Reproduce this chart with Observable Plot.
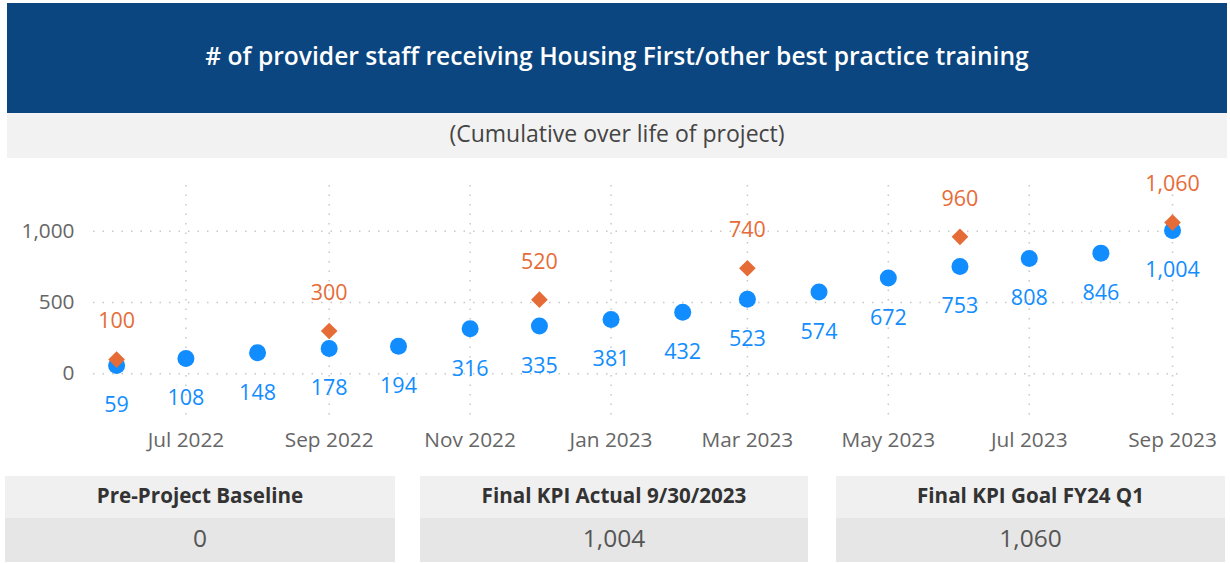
<!DOCTYPE html>
<html>
<head>
<meta charset="utf-8">
<script src="https://cdn.jsdelivr.net/npm/d3@7"></script>
<script src="https://cdn.jsdelivr.net/npm/@observablehq/plot@0.6"></script>
<style>
  html, body { margin: 0; padding: 0; background: #fff; }
  body { width: 1230px; height: 563px; position: relative; overflow: hidden;
         font-family: "Segoe UI", "Open Sans", sans-serif; }
  #banner { position: absolute; left: 7px; top: 3px; width: 1220px; height: 110px; box-sizing: border-box;
            padding-bottom: 6px;
            background: #0b4680; color: #fff; display: flex; align-items: center; justify-content: center;
            font-size: 24.6px; font-weight: 600; }
  #sub { position: absolute; left: 7px; top: 113px; width: 1220px; height: 45px; box-sizing: border-box;
         padding-bottom: 5px;
         background: #f2f2f2; color: #444; display: flex; align-items: center; justify-content: center;
         font-size: 23px; }
  #chart { position: absolute; left: 0; top: 160px; }
  .card { position: absolute; top: 476px; }
  .card .h { height: 42px; box-sizing: border-box; padding-bottom: 5px; background: #f0f0f0; color: #333; font-weight: 700; font-size: 20.6px;
             display: flex; align-items: center; justify-content: center; }
  .card .v { height: 44px; box-sizing: border-box; padding-bottom: 5px; background: #e6e6e6; color: #555; font-size: 24.5px;
             display: flex; align-items: center; justify-content: center; }
</style>
</head>
<body>
<div id="banner"></div>
<div id="sub"></div>
<div id="chart"></div>
<div id="cards"></div>
<script>
const titleText = "# of provider staff receiving Housing First/other best practice training";
const subtitleText = "(Cumulative over life of project)";

const actualMonths = ["2022-06-01","2022-07-01","2022-08-01","2022-09-01","2022-10-01","2022-11-01","2022-12-01",
  "2023-01-01","2023-02-01","2023-03-01","2023-04-01","2023-05-01","2023-06-01","2023-07-01","2023-08-01","2023-09-01"];
const actualValues = [59,108,148,178,194,316,335,381,432,523,574,672,753,808,846,1004];

const goalMonths = ["2022-06-01","2022-09-01","2022-12-01","2023-03-01","2023-06-01","2023-09-01"];
const goalValues = [100,300,520,740,960,1060];

const xTickMonths = ["2022-07-01","2022-09-01","2022-11-01","2023-01-01","2023-03-01","2023-05-01","2023-07-01","2023-09-01"];
const yTickValues = [0,500,1000];

const cardTitles = ["Pre-Project Baseline","Final KPI Actual 9/30/2023","Final KPI Goal FY24 Q1"];
const cardValues = [0,1004,1060];

document.getElementById("banner").textContent = titleText;
document.getElementById("sub").textContent = subtitleText;

const fmt = d3.format(",");
const actual = actualMonths.map((m,i) => ({date: new Date(m), value: actualValues[i]}));
const goal = goalMonths.map((m,i) => ({date: new Date(m), value: goalValues[i]}));
const xTicks = xTickMonths.map(m => new Date(m));

const blue = "#118DFF", orange = "#E66C37";
const gridStyle = {stroke: "#c8c8c8", strokeOpacity: 1, strokeWidth: 1.5, strokeDasharray: "1.5,8"};

const chart = Plot.plot({
  width: 1230, height: 310,
  marginTop: 25, marginBottom: 52, marginLeft: 93, marginRight: 47,
  style: {fontFamily: "'Segoe UI','Open Sans',sans-serif", fontSize: "20.8px", color: "#666", background: "transparent", overflow: "visible"},
  x: {type: "utc", domain: [new Date("2022-05-22"), new Date("2023-09-05T18:00:00Z")], label: null},
  y: {domain: [-313, 1320], label: null},
  marks: [
    Plot.gridX(xTicks, {...gridStyle}),
    Plot.gridY(yTickValues, {...gridStyle}),
    Plot.axisX({ticks: xTicks, tickFormat: d3.utcFormat("%b %Y"), tickSize: 0, tickPadding: 14, fill: "#666"}),
    Plot.axisY({ticks: yTickValues, tickFormat: fmt, tickSize: 0, tickPadding: 19, fill: "#666"}),
    Plot.dot(actual, {x: "date", y: "value", r: 8.5, fill: blue, stroke: null}),
    Plot.dot(goal, {x: "date", y: "value", r: 7.5, symbol: "diamond2", fill: orange, stroke: null}),
    Plot.text(actual, {x: "date", y: "value", text: d => fmt(d.value), dy: 40, fill: blue, fontSize: 21.5}),
    Plot.text(goal, {x: "date", y: "value", text: d => fmt(d.value), dy: -38, fill: orange, fontSize: 21.5})
  ]
});
document.getElementById("chart").appendChild(chart);

const cardLefts = [5, 420, 836];
const cardWidths = [390, 388, 389];
const cards = document.getElementById("cards");
cardTitles.forEach((t,i) => {
  const c = document.createElement("div");
  c.className = "card";
  c.style.left = cardLefts[i] + "px";
  c.style.width = cardWidths[i] + "px";
  const h = document.createElement("div"); h.className = "h"; h.textContent = t;
  const v = document.createElement("div"); v.className = "v"; v.textContent = fmt(cardValues[i]);
  c.appendChild(h); c.appendChild(v);
  cards.appendChild(c);
});
</script>
</body>
</html>
